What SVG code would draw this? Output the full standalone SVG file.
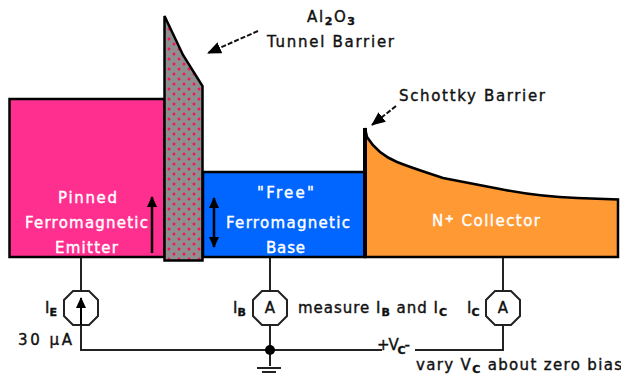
<svg xmlns="http://www.w3.org/2000/svg" width="621" height="375" viewBox="0 0 621 375">
<style>
text{font-family:"DejaVu Sans",sans-serif;font-size:15px;fill:#111;stroke:#111;stroke-width:.4}
.w{fill:#fff;stroke:#fff}
.s{font-size:11px;font-weight:bold}
.box{stroke:#000;stroke-width:2.5}
.wire{fill:none;stroke:#222;stroke-width:2}
.dash{fill:none;stroke:#111;stroke-width:2;stroke-dasharray:5 2}
.meter{fill:#fff;stroke:#222;stroke-width:2}
</style>
<defs>
<pattern id="dots" width="10" height="10" patternUnits="userSpaceOnUse" x="1" y="1">
<rect width="10" height="10" fill="#8f8f8f"/>
<circle cx="3" cy="3" r="1.5" fill="#f01858"/>
<circle cx="8" cy="8" r="1.5" fill="#f01858"/>
</pattern>
<marker id="bighead" markerWidth="11" markerHeight="11" refX="10" refY="5.5" orient="auto-start-reverse" markerUnits="userSpaceOnUse">
<path d="M0 0.500L11 5.500L0 10.500Z" fill="#000"/>
</marker>
<marker id="ah" markerWidth="14" markerHeight="12" refX="13" refY="6" orient="auto" markerUnits="userSpaceOnUse">
<path d="M0 0L14 6L0 12Z" fill="#000"/>
</marker>
</defs>
<g id="connectors">
<path class="wire" d="M81 257V350H382M415 350H503V257"/>
<path class="wire" d="M270 257V366"/>
<path class="wire" d="M257 368H281M262 372H276"/>
<circle cx="270" cy="350" r="5" fill="#000"/>
<path class="dash" d="M258 31L208 53" marker-end="url(#ah)"/>
<path class="dash" d="M396 106L372 125" marker-end="url(#ah)"/>
</g>
<g id="emitter">
<rect class="box" x="9.500" y="99" width="155" height="158" fill="#ff2f8f"/>
<text class="w" x="58" y="203" textLength="59">Pinned</text>
<text class="w" x="25" y="228" textLength="123">Ferromagnetic</text>
<text class="w" x="55" y="253" textLength="63">Emitter</text>
<path d="M152 253V197" stroke="#000" stroke-width="2.500" marker-end="url(#bighead)"/>
</g>
<g id="tunnel-barrier">
<path class="box" d="M164.500 16L183 55L202.500 86V260.500H164.500Z" fill="url(#dots)"/>
<text x="307" y="22" textLength="48">Al<tspan class="s" dy="3">2</tspan><tspan dy="-3">O</tspan><tspan class="s" dy="3">3</tspan></text>
<text x="267" y="47" textLength="127">Tunnel Barrier</text>
</g>
<g id="base">
<rect class="box" x="203" y="172" width="162" height="85" fill="#0066ff"/>
<text class="w" x="257" y="198" textLength="57">"Free"</text>
<text class="w" x="226" y="228" textLength="124">Ferromagnetic</text>
<text class="w" x="266" y="253" textLength="39">Base</text>
<path d="M214 198V247" stroke="#000" stroke-width="2.500" marker-start="url(#bighead)" marker-end="url(#bighead)"/>
</g>
<g id="collector">
<path d="M365 128L367 137C375 150 385 157 397 162C412 168 428 173 443 178L500 189C525 194 550 197 577 198L618 199.500V257H365Z" fill="#ff9933" stroke="#000" stroke-width="2.500"/>
<path d="M365 128V257" stroke="#000" stroke-width="4"/>
<text class="w" x="432" y="226" textLength="108">N<tspan class="s" dy="-4">+</tspan><tspan dy="4"> Collector</tspan></text>
<text x="399" y="101" textLength="146">Schottky Barrier</text>
</g>
<g id="source-ie">
<path class="meter" d="M73 291H89L98 300V316L89 325H73L64 316V300Z"/>
<path d="M81 325V298" stroke="#000" stroke-width="2" marker-end="url(#bighead)"/>
<text x="45" y="313">I<tspan class="s" dy="3">E</tspan></text>
<text x="18" y="345" textLength="54">30 μA</text>
</g>
<g id="meter-ib">
<path class="meter" d="M262 291H278L287 300V316L278 325H262L253 316V300Z"/>
<text x="270" y="313" text-anchor="middle">A</text>
<text x="233" y="313">I<tspan class="s" dy="3">B</tspan></text>
<text x="298" y="313" textLength="149">measure I<tspan class="s" dy="3">B</tspan><tspan dy="-3"> and I</tspan><tspan class="s" dy="3">C</tspan></text>
</g>
<g id="meter-ic">
<path class="meter" d="M495 291H511L520 300V316L511 325H495L486 316V300Z"/>
<text x="503" y="313" text-anchor="middle">A</text>
<text x="467" y="313">I<tspan class="s" dy="3">C</tspan></text>
<text x="377" y="350" textLength="33">+V<tspan class="s" dy="4">C</tspan><tspan dy="-4">-</tspan></text>
<text x="416" y="370" textLength="206">vary V<tspan class="s" dy="3">C</tspan><tspan dy="-3"> about zero bias</tspan></text>
</g>
</svg>
